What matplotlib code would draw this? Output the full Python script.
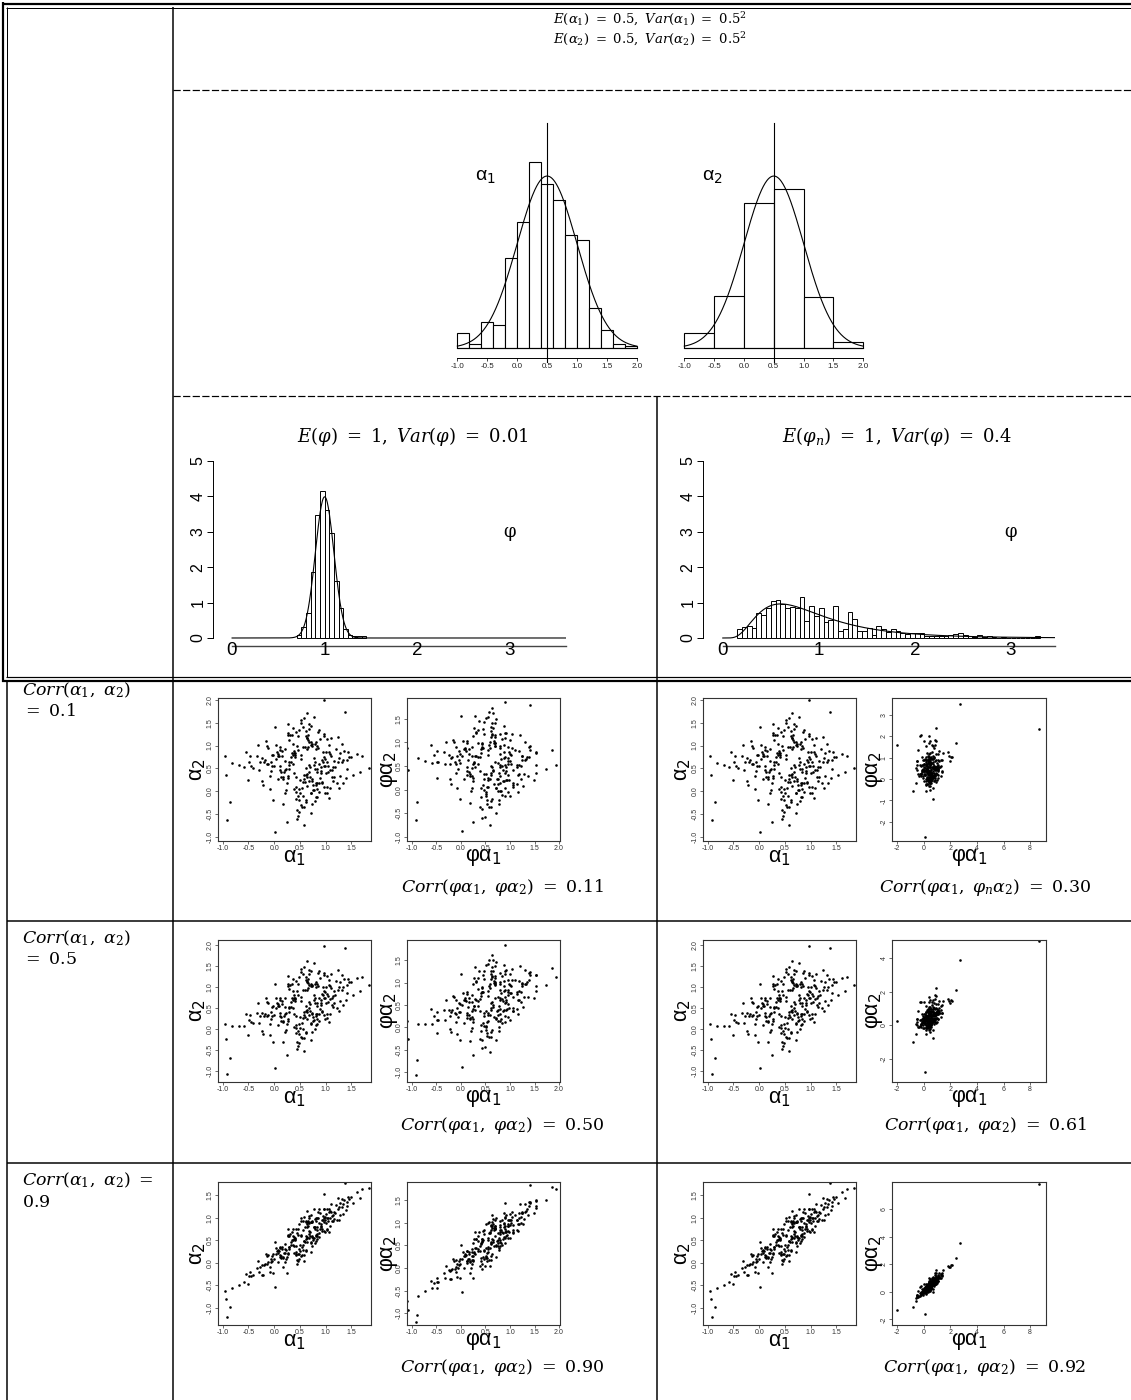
import numpy as np
import matplotlib
matplotlib.use('Agg')
import matplotlib.pyplot as plt

plt.rcParams['mathtext.fontset'] = 'stix'
plt.rcParams['font.family'] = ['Liberation Sans', 'DejaVu Sans']

# ---------------- data ----------------
# top histograms (density heights)
alpha1_edges = [-1.0, -0.8, -0.6, -0.4, -0.2, 0.0, 0.2, 0.4, 0.6, 0.8, 1.0, 1.2, 1.4, 1.6, 1.8, 2.0]
alpha1_dens = [0.069, 0.019, 0.12, 0.107, 0.42, 0.587, 0.865, 0.761, 0.687, 0.523, 0.499, 0.185, 0.085, 0.019, 0.008]
alpha2_edges = [-1.0, -0.5, 0.0, 0.5, 1.0, 1.5, 2.0]
alpha2_dens = [0.069, 0.241, 0.675, 0.737, 0.236, 0.026]
alpha_mean, alpha_sd = 0.5, 0.5

# phi histograms
phi_bin_start, phi_bin_width = 0.70, 0.05
phi_dens = [0.09, 0.31, 0.71, 1.86, 3.47, 4.16, 3.62, 2.97, 1.60, 0.85, 0.25, 0.09, 0.05, 0.05, 0.05]
phi_mean, phi_var = 1.0, 0.01

phin_bin_start, phin_bin_width = 0.15, 0.05
phin_dens = [0.25, 0.31, 0.33, 0.28, 0.71, 0.66, 0.85, 1.04, 1.08, 0.96,
             0.85, 0.88, 0.85, 1.16, 0.49, 0.90, 0.61, 0.85, 0.44, 0.52,
             0.90, 0.21, 0.25, 0.74, 0.54, 0.21, 0.19, 0.28, 0.09, 0.33,
             0.24, 0.16, 0.25, 0.19, 0.14, 0.11, 0.14, 0.14, 0.13, 0.07,
             0.07, 0.05, 0.07, 0.05, 0.09, 0.11, 0.14, 0.09, 0.05, 0.03,
             0.09, 0.03, 0.05, 0.02, 0.0, 0.02, 0.0, 0.0, 0.0, 0.0,
             0.0, 0.0, 0.05]
phin_mean, phin_var = 1.0, 0.4

# scatter samples: alpha1 shared by rows, alpha2 for each correlation
alpha1 = [1.85, 0.97, 0.33, 0.72, -0.12, 0.56, 1.23, 0.21, 0.48, 0.86,
          -0.94, 0.63, 0.12, 1.06, 0.58, 0.47, 1.41, -0.27, 0.76, 0.28,
          0.81, -0.02, 1.17, 0.41, 0.88, -0.58, 0.53, 1.02, 0.14, 0.66,
          0.26, 1.28, 0.52, -0.16, 0.93, 0.69, 0.07, 1.54, 0.36, 0.78,
          1.11, 0.44, -0.42, 0.73, 0.61, 0.18, 1.22, -0.04, 0.91, 0.49,
          0.31, 0.83, 1.71, -0.21, 0.64, 0.38, 0.99, 0.11, 0.57, 1.36,
          -0.81, 0.74, 0.23, 1.08, 0.96, 0.01, 0.62, 0.79, 0.34, 1.14,
          0.51, -0.29, 0.89, 0.71, 0.16, 1.46, 0.43, 0.67, -0.09, 1.04,
          0.82, 0.29, 1.26, -0.49, 0.59, 0.94, 0.22, 0.54, 1.01, 0.04,
          0.64, 1.61, 0.42, -0.06, 0.84, 0.77, -0.34, 1.19, 0.32, 0.51,
          1.31, 0.09, 0.68, 0.46, 1.07, -0.14, 0.92, 0.61, 0.24, 1.49,
          0.37, 0.79, -0.69, 0.96, 0.56, 0.13, 1.09, 0.39, 0.72, -0.01,
          1.39, 0.66, 0.19, 0.53, -0.24, 0.87, 1.16, 0.06, 0.69, 0.44,
          -0.44, 0.98, 0.62, 0.27, 0.89, 1.24, -0.11, 0.83, 0.41, 0.54,
          0.76, 0.08, 1.34, 0.43, 0.97, -0.19, 0.63, 0.26, 1.03, -0.51,
          1.37, 0.02, -0.91, -0.86, -0.96,
          0.59, 0.24, 1.03, 0.82, -0.07, 0.71, 0.38, 1.21, 0.49, 0.88,
          0.17, 0.66, 1.33, 0.29, 0.94, 0.57, -0.13, 0.79, 1.12, 0.46,
          0.83, 0.03, 0.67, 1.66, 0.37, 0.81, -0.32, 0.52, 1.06, 0.68,
          0.41, 1.13, 0.21, 0.63, 0.91, -0.03, 0.74, 1.32, 0.27, 0.56,
          0.99, 0.36, 0.73, -0.08, 0.86, 0.47, 1.44, 0.12, 0.63, 0.79,
          0.44, 0.96, -0.23, 0.77, 0.61, 1.11, 0.18, 0.92, 0.39, 0.71,
          1.27, 0.28, 0.56, -0.54, 0.78, 1.01, 0.08, 0.64, 0.87, 0.23,
          0.48, 1.04, 0.16, 0.68, 1.42, 0.42, 0.96, -0.18, 0.62, 0.74,
          0.21, 0.84, 1.14, 0.43, 0.67, -0.04, 0.81, 0.52, 1.26, 0.34,
          0.91, -0.46, 0.58, 1.02, 0.26, 0.72, 1.09, 0.11, 0.57, 0.84]
alpha2_r01 = [0.50, 2.00, 0.74, -0.03, 0.59, 0.21, 1.18, 0.47, -0.45, 0.94,
              0.36, 0.32, 0.96, 0.86, -0.74, 1.20, 0.49, 0.63, 0.13, 0.58,
              1.08, -0.20, 0.32, 0.84, 0.59, 0.54, 1.56, 0.10, 0.42, 0.97,
              0.33, 0.83, -0.30, 1.09, 0.20, 0.52, 0.76, 0.36, 1.39, 0.03,
              0.76, -0.61, 0.51, 0.98, 1.31, 0.27, 0.17, 0.80, 0.44, -0.20,
              1.23, 0.49, 0.77, 0.13, 1.72, 0.89, -0.05, 0.46, 0.36, 0.89,
              0.62, 1.03, 0.03, 0.46, 0.75, 1.40, -0.24, 0.63, 0.84, 0.22,
              -0.05, 0.47, 1.14, -0.48, 0.77, 0.75, 0.30, 1.37, 0.34, 0.56,
              0.93, 1.13, 0.08, 0.65, 0.21, 0.65, 0.92, -0.35, 0.40, 1.01,
              0.12, 0.81, 1.29, 0.45, -0.12, 1.63, 0.77, 0.52, 0.63, 0.25,
              0.63, 0.76, 0.42, -0.11, 1.01, 0.99, 0.19, 1.21, -0.68, 0.75,
              0.79, -0.22, 0.58, 0.55, 1.41, 0.32, 0.81, 0.04, 1.02, 0.55,
              0.29, 1.12, 0.42, 1.50, 0.73, -0.02, 0.67, 0.86, 0.32, -0.41,
              0.56, 0.55, -0.19, 1.23, 0.29, 0.63, 0.94, 0.43, 0.79, 0.06,
              0.03, 0.81, 0.69, 0.09, 1.20, 0.63, 0.37, 1.28, -0.05, 0.25,
              1.74, -0.90, -0.64, -0.24, 0.76,
              0.96, 0.18, 0.65, -0.12, 0.65, 1.07, 0.39, 0.92, 0.05, 1.34,
              0.32, 1.22, 0.19, 0.48, 0.85, -0.35, 0.59, 1.03, 0.31, 0.90,
              0.04, 0.71, 1.47, 0.42, 0.59, 0.18, 1.02, 0.70, -0.15, 0.57,
              0.74, 0.47, -0.03, 1.16, 0.54, 0.80, 0.23, 1.03, 1.48, -0.10,
              0.70, 1.04, 0.27, 0.04, 1.29, -0.55, 0.85, 0.56, 0.92, 0.48,
              1.00, 0.10, 0.23, 0.73, 0.36, 1.16, -0.28, 0.69, 0.84, 1.42,
              0.33, 0.63, 0.96, 0.85, 0.58, 0.85, 0.26, 1.17, 0.19, 0.48,
              1.35, 0.41, 0.87, 0.22, 0.69, -0.01, 1.25, 0.68, 0.51, -0.28,
              0.67, 0.99, 0.52, -0.16, 1.07, 0.55, 0.13, 0.80, 0.73, 1.24,
              0.39, 0.76, 0.26, 1.15, 0.28, -0.03, 0.06, 0.91, 1.61, 0.18]
alpha2_r05 = [1.06, 1.98, 0.64, 0.12, 0.33, 0.27, 1.40, 0.35, -0.32, 1.02,
              -0.23, 0.40, 0.73, 1.04, -0.53, 1.08, 0.86, 0.30, 0.28, 0.49,
              1.13, -0.31, 0.61, 0.75, 0.74, 0.08, 1.43, 0.36, 0.28, 0.97,
              0.25, 1.12, -0.19, 0.74, 0.42, 0.60, 0.54, 0.81, 1.20, 0.22,
              0.97, -0.48, 0.14, 1.02, 1.24, 0.18, 0.50, 0.53, 0.61, -0.11,
              1.05, 0.63, 1.23, -0.11, 1.61, 0.80, 0.23, 0.30, 0.40, 1.19,
              0.07, 1.06, -0.02, 0.71, 0.90, 1.07, -0.10, 0.74, 0.73, 0.52,
              0.02, 0.14, 1.22, -0.27, 0.59, 1.11, 0.30, 1.31, 0.11, 0.78,
              1.00, 0.96, 0.44, 0.22, 0.29, 0.81, 0.74, -0.21, 0.62, 0.75,
              0.23, 1.22, 1.14, 0.23, 0.11, 1.58, 0.38, 0.81, 0.53, 0.28,
              0.94, 0.56, 0.51, -0.05, 1.17, 0.65, 0.40, 1.16, -0.62, 1.13,
              0.69, 0.00, 0.07, 0.73, 1.30, 0.20, 1.02, 0.06, 1.03, 0.34,
              0.69, 1.10, 0.31, 1.37, 0.39, 0.20, 0.91, 0.62, 0.43, -0.30,
              0.16, 0.75, -0.06, 1.03, 0.48, 0.92, 0.63, 0.56, 0.71, 0.14,
              0.19, 0.60, 1.01, 0.10, 1.29, 0.32, 0.45, 1.07, 0.26, -0.13,
              1.92, -0.92, -1.07, -0.70, 0.12,
              0.94, 0.12, 0.84, 0.09, 0.40, 1.08, 0.36, 1.15, 0.11, 1.39,
              0.20, 1.18, 0.58, 0.40, 0.99, -0.21, 0.31, 1.07, 0.58, 0.82,
              0.24, 0.49, 1.40, 0.90, 0.51, 0.35, 0.62, 0.67, 0.17, 0.64,
              0.67, 0.74, -0.08, 1.11, 0.70, 0.55, 0.37, 1.29, 1.27, 0.01,
              0.88, 0.90, 0.38, -0.15, 1.33, -0.41, 1.19, 0.39, 0.92, 0.61,
              0.91, 0.34, -0.05, 0.80, 0.42, 1.32, -0.30, 0.84, 0.74, 1.38,
              0.66, 0.52, 0.92, 0.37, 0.69, 1.01, 0.10, 1.14, 0.37, 0.38,
              1.24, 0.65, 0.67, 0.34, 1.04, 0.02, 1.33, 0.37, 0.55, -0.07,
              0.52, 1.07, 0.78, -0.09, 1.05, 0.31, 0.30, 0.76, 1.00, 1.08,
              0.57, 0.33, 0.33, 1.27, 0.20, 0.14, 0.37, 0.69, 1.48, 0.36]
alpha2_r09 = [1.66, 1.54, 0.47, 0.44, 0.03, 0.41, 1.44, 0.23, 0.09, 0.99,
              -0.81, 0.55, 0.36, 1.13, 0.05, 0.76, 1.27, -0.09, 0.55, 0.36,
              1.01, -0.23, 0.98, 0.56, 0.88, -0.43, 1.00, 0.75, 0.16, 0.83,
              0.21, 1.33, 0.15, 0.20, 0.75, 0.68, 0.23, 1.34, 0.76, 0.55,
              1.13, -0.03, -0.27, 0.92, 0.94, 0.14, 0.96, 0.16, 0.82, 0.20,
              0.65, 0.79, 1.65, -0.26, 1.16, 0.58, 0.69, 0.14, 0.48, 1.40,
              -0.56, 0.94, 0.08, 1.00, 0.99, 0.46, 0.26, 0.81, 0.52, 0.93,
              0.26, -0.20, 1.12, 0.24, 0.32, 1.42, 0.37, 1.01, -0.08, 1.00,
              0.94, 0.60, 0.96, -0.29, 0.46, 0.95, 0.43, 0.17, 0.89, 0.34,
              0.46, 1.58, 0.76, 0.01, 0.53, 1.21, -0.11, 1.11, 0.39, 0.39,
              1.24, 0.27, 0.64, 0.19, 1.19, 0.16, 0.71, 0.90, -0.23, 1.47,
              0.50, 0.44, -0.49, 0.91, 0.94, 0.12, 1.15, 0.21, 0.90, 0.09,
              1.18, 0.90, 0.21, 0.94, -0.04, 0.58, 1.13, 0.27, 0.59, 0.06,
              -0.29, 0.95, 0.29, 0.60, 0.75, 1.20, 0.18, 0.73, 0.54, 0.35,
              0.51, 0.29, 1.31, 0.24, 1.19, -0.04, 0.57, 0.62, 0.73, -0.47,
              1.77, -0.54, -1.20, -0.98, -0.63,
              0.79, 0.14, 0.99, 0.49, 0.09, 0.92, 0.37, 1.28, 0.30, 1.21,
              0.12, 0.94, 1.09, 0.32, 1.04, 0.17, -0.02, 0.97, 0.93, 0.63,
              0.60, 0.20, 1.05, 1.45, 0.41, 0.62, 0.04, 0.59, 0.69, 0.70,
              0.52, 1.04, 0.01, 0.87, 0.86, 0.20, 0.59, 1.42, 0.76, 0.28,
              1.02, 0.61, 0.57, -0.21, 1.14, 0.04, 1.46, 0.18, 0.81, 0.75,
              0.67, 0.71, -0.26, 0.81, 0.53, 1.30, -0.10, 0.95, 0.54, 1.07,
              1.07, 0.36, 0.74, -0.25, 0.79, 1.08, 0.01, 0.92, 0.66, 0.28,
              0.87, 0.93, 0.36, 0.55, 1.35, 0.19, 1.21, -0.02, 0.59, 0.38,
              0.32, 1.01, 1.06, 0.17, 0.88, 0.05, 0.60, 0.63, 1.24, 0.69,
              0.80, -0.20, 0.48, 1.21, 0.19, 0.46, 0.82, 0.34, 1.03, 0.64]
# multipliers per draw: phi (Var 0.01) and phi_n (Var 0.4)
phi = [1.05, 0.93, 0.95, 1.10, 0.92, 1.05, 0.98, 1.14, 0.89, 1.01,
       1.15, 0.96, 1.07, 0.93, 1.02, 0.99, 1.08, 0.85, 1.04, 0.97,
       1.11, 0.94, 1.00, 1.06, 0.90, 1.03, 0.97, 1.12, 0.95, 1.01,
       0.88, 1.09, 1.02, 0.96, 1.05, 0.93, 1.13, 0.99, 1.04, 0.91,
       1.07, 0.98, 1.16, 0.94, 1.01, 1.06, 0.87, 1.03, 0.95, 1.10,
       0.97, 1.02, 1.08, 0.92, 1.00, 1.12, 0.96, 1.05, 0.90, 1.04,
       1.09, 0.95, 1.01, 1.06, 0.93, 1.11, 0.98, 1.03, 0.86, 1.07,
       1.00, 1.14, 0.94, 1.02, 0.97, 1.05, 1.10, 0.91, 1.04, 0.99,
       0.96, 1.08, 1.01, 1.13, 0.93, 1.03, 0.98, 1.07, 0.89, 1.02,
       1.05, 0.95, 1.11, 0.99, 1.06, 0.92, 1.04, 1.00, 1.09, 0.94,
       1.02, 1.07, 0.97, 1.12, 0.90, 1.03, 0.96, 1.08, 1.01, 0.93,
       1.10, 0.98, 1.05, 0.94, 1.15, 1.00, 0.92, 1.06, 0.97, 1.03,
       0.99, 1.04, 0.91, 1.09, 1.02, 0.95, 1.07, 1.00, 1.13, 0.88,
       1.06, 0.97, 1.03, 0.93, 1.08, 1.01, 0.96, 1.11, 0.99, 1.04,
       0.94, 1.09, 1.00, 1.05, 0.92, 1.07, 0.98, 1.02, 1.12, 0.96,
       1.03, 0.97, 1.00, 1.05, 1.15,
       0.98, 1.06, 0.93, 1.02, 1.10, 0.96, 1.04, 0.91, 1.08, 1.00,
       1.03, 0.95, 1.12, 0.99, 0.94, 1.07, 1.01, 0.89, 1.05, 0.97,
       1.09, 1.00, 0.96, 1.04, 0.92, 1.13, 0.98, 1.06, 0.95, 1.02,
       0.93, 1.08, 1.01, 0.97, 1.11, 0.94, 1.03, 0.99, 1.06, 0.90,
       1.04, 0.96, 1.09, 1.00, 0.92, 1.05, 0.98, 1.14, 0.95, 1.01,
       0.97, 1.10, 0.94, 1.03, 1.07, 0.91, 1.02, 0.96, 1.08, 0.99,
       1.01, 0.93, 1.06, 1.12, 0.97, 1.04, 0.90, 1.00, 1.09, 0.95,
       0.95, 1.03, 0.99, 1.07, 0.92, 1.10, 0.96, 1.02, 0.98, 1.05,
       1.08, 0.94, 1.00, 0.97, 1.05, 1.13, 0.93, 1.06, 0.99, 1.02,
       1.00, 1.07, 0.95, 1.03, 0.91, 1.04, 0.98, 1.09, 0.96, 1.01]
phi_n = [4.70, 0.62, 1.10, 0.45, 0.83, 1.35, 0.71, 0.95, 0.52, 1.22,
         0.38, 0.88, 1.60, 0.67, 0.30, 1.02, 0.77, 0.55, 1.45, 0.80,
         0.93, 0.48, 1.18, 0.64, 2.10, 0.41, 0.74, 1.30, 0.86, 0.58,
         1.05, 0.69, 0.35, 1.85, 0.79, 0.98, 0.51, 0.90, 1.26, 0.60,
         0.75, 1.52, 0.44, 0.96, 0.66, 1.12, 0.57, 0.84, 2.35, 0.72,
         0.50, 1.08, 0.63, 0.92, 1.38, 0.46, 0.81, 1.70, 0.59, 0.99,
         0.68, 0.40, 1.15, 0.87, 0.54, 1.28, 0.73, 0.97, 1.90, 0.61,
         0.85, 0.33, 1.04, 0.70, 1.55, 0.49, 0.91, 0.65, 1.20, 0.78,
         1.42, 0.56, 0.82, 1.00, 0.43, 2.60, 0.76, 0.60, 1.09, 0.89,
         0.53, 1.25, 0.70, 0.94, 0.36, 1.13, 0.84, 1.65, 0.58, 0.74,
         0.97, 0.47, 1.33, 0.63, 0.88, 1.06, 0.42, 1.48, 0.79, 0.67,
         1.17, 0.55, 0.90, 1.95, 0.61, 0.80, 1.03, 0.39, 0.72, 1.24,
         0.58, 0.86, 1.40, 0.69, 0.50, 1.11, 0.95, 0.64, 1.75, 0.82,
         0.45, 1.01, 0.77, 1.36, 0.60, 0.88, 2.20, 0.53, 0.93, 0.71,
         1.14, 0.66, 0.84, 1.29, 0.48, 0.98, 0.75, 1.58, 0.62, 0.87,
         2.00, 3.00, 0.90, 0.70, 2.10,
         0.72, 1.15, 0.48, 0.93, 1.40, 0.61, 0.84, 0.55, 1.07, 0.79,
         0.66, 1.30, 0.42, 0.88, 0.57, 1.22, 0.75, 0.98, 0.51, 1.62,
         0.81, 0.59, 1.05, 0.46, 0.92, 0.70, 1.34, 0.63, 0.87, 1.10,
         0.54, 0.96, 1.48, 0.68, 0.40, 0.85, 1.19, 0.73, 0.60, 0.99,
         1.27, 0.64, 0.78, 1.02, 0.50, 0.91, 0.69, 1.56, 0.83, 0.57,
         0.89, 0.45, 1.12, 0.76, 1.36, 0.62, 0.94, 0.53, 1.08, 0.71,
         0.60, 1.21, 0.82, 0.97, 0.47, 1.44, 0.74, 0.65, 1.00, 0.86,
         0.77, 0.52, 1.17, 0.90, 0.67, 1.31, 0.58, 0.95, 1.70, 0.63,
         1.04, 0.80, 0.56, 1.25, 0.73, 0.44, 0.99, 1.14, 0.61, 0.87,
         0.70, 1.09, 0.92, 0.49, 1.38, 0.79, 0.66, 1.01, 0.58, 1.20]

row_alpha2 = [alpha2_r01, alpha2_r05, alpha2_r09]
row_labels = [(r'$Corr(\alpha_1,\ \alpha_2)$', r'$=\ 0.1$'),
              (r'$Corr(\alpha_1,\ \alpha_2)$', r'$=\ 0.5$'),
              (r'$Corr(\alpha_1,\ \alpha_2)\ =$', r'$0.9$')]
corr_left = [r'$Corr(\varphi\alpha_1,\ \varphi\alpha_2)\ =\ 0.11$',
             r'$Corr(\varphi\alpha_1,\ \varphi\alpha_2)\ =\ 0.50$',
             r'$Corr(\varphi\alpha_1,\ \varphi\alpha_2)\ =\ 0.90$']
corr_right = [r'$Corr(\varphi\alpha_1,\ \varphi_n\alpha_2)\ =\ 0.30$',
              r'$Corr(\varphi\alpha_1,\ \varphi\alpha_2)\ =\ 0.61$',
              r'$Corr(\varphi\alpha_1,\ \varphi\alpha_2)\ =\ 0.92$']

# ---------------- figure ----------------
W, H = 1131, 1400
PX = 0.72  # one pixel in points
MATHF = 'dejavuserif'
fig = plt.figure(figsize=(W / 100, H / 100), dpi=100)


def px_axes(l, t, r, b):
    return fig.add_axes([l / W, 1 - b / H, (r - l) / W, (b - t) / H])


grid = px_axes(0, 0, W, H)
grid.set_xlim(0, W)
grid.set_ylim(H, 0)
grid.axis('off')


def hline(y, x0, x1, lw=1.5, **kw):
    grid.plot([x0, x1], [y, y], color='k', lw=lw * PX, solid_capstyle='butt', **kw)


def vline(x, y0, y1, lw=1.5):
    grid.plot([x, x], [y0, y1], color='k', lw=lw * PX, solid_capstyle='butt')


def cell_text(x, y, s, size, ha='center'):
    grid.text(x, y, s, ha=ha, va='center', fontsize=size, math_fontfamily=MATHF)


# table rules
hline(3.5, 2, W, 2.2)
hline(7.5, 6, W, 1.0)
vline(2.5, 2, 682, 2.2)
vline(6.5, 7, 677, 1.0)
hline(677, 6, W, 1.2)
hline(681, 2, W, 2.2)
vline(7, 680, H, 1.5)
vline(173, 7, H, 1.5)
hline(90, 173, W, 1.2, ls=(0, (6, 2)))
hline(396, 173, W, 1.2, ls=(0, (6, 2)))
vline(657, 396, H, 1.5)
hline(921, 7, W, 1.5)
hline(1163, 7, W, 1.5)

# header
cell_text(650, 19, r'$E(\alpha_1)\ =\ 0.5,\ Var(\alpha_1)\ =\ 0.5^2$', 9.5)
cell_text(650, 39, r'$E(\alpha_2)\ =\ 0.5,\ Var(\alpha_2)\ =\ 0.5^2$', 9.5)


def normal_pdf(x, m, s):
    return np.exp(-0.5 * ((x - m) / s) ** 2) / (s * np.sqrt(2 * np.pi))


def lognormal_pdf(x, mean, var):
    s2 = np.log(1 + var / mean ** 2)
    mu = np.log(mean) - s2 / 2
    return np.exp(-(np.log(x) - mu) ** 2 / (2 * s2)) / (x * np.sqrt(2 * np.pi * s2))


def alpha_hist(ax, edges, dens, label, xlim):
    edges = np.array(edges)
    ax.bar(edges[:-1], dens, width=np.diff(edges), align='edge', color='white',
           edgecolor='black', linewidth=0.8)
    xs = np.linspace(-1, 2, 300)
    ax.plot(xs, normal_pdf(xs, alpha_mean, alpha_sd), color='k', lw=0.8)
    ax.plot([-1, 2], [0, 0], color='k', lw=0.8)
    ax.plot([alpha_mean, alpha_mean], [-0.065, 1.044], color='k', lw=0.8, clip_on=False)
    ax.set_xlim(*xlim)
    ax.set_ylim(-0.125, 1.081)
    for s in ['top', 'right', 'left']:
        ax.spines[s].set_visible(False)
    ax.spines['bottom'].set_position(('data', -0.046))
    ax.spines['bottom'].set_bounds(-1, 2)
    ax.spines['bottom'].set_linewidth(0.7)
    ax.set_yticks([])
    ticks = [-1.0, -0.5, 0.0, 0.5, 1.0, 1.5, 2.0]
    ax.set_xticks(ticks)
    ax.set_xticklabels(['%.1f' % t for t in ticks])
    ax.tick_params(axis='x', length=2.5, width=0.6, pad=1, labelsize=5.8, colors='#222')
    ax.patch.set_alpha(0)
    ax.text(-0.53, 0.79, label, ha='center', va='center', fontsize=14, math_fontfamily='dejavusans')


ax = px_axes(440, 115, 650, 375)
alpha_hist(ax, alpha1_edges, alpha1_dens, r'α$_1$', (-1.29, 2.22))
ax = px_axes(670, 115, 880, 375)
alpha_hist(ax, alpha2_edges, alpha2_dens, r'α$_2$', (-1.24, 2.28))


def phi_hist(ax, start, width, dens, curve, xmax):
    lefts = start + width * np.arange(len(dens))
    ax.bar(lefts, dens, width=width, align='edge', color='white', edgecolor='black', linewidth=0.7)
    xs = np.linspace(0.001, xmax, 600)
    ax.plot(xs, curve(xs), color='k', lw=0.8)
    ax.set_xlim(-0.205, xmax + 0.005)
    ax.set_ylim(-0.763, 5.17)
    for s in ['top', 'right', 'bottom']:
        ax.spines[s].set_visible(False)
    ax.spines['left'].set_bounds(0, 5)
    ax.spines['left'].set_linewidth(0.7)
    ax.set_yticks([0, 1, 2, 3, 4, 5])
    ax.set_xticks([])
    ax.tick_params(axis='y', length=4, width=0.7, pad=1.5, labelsize=11.5)
    for lab in ax.get_yticklabels():
        lab.set_rotation(90)
        lab.set_va('center')
    ax.plot([0, xmax], [-0.226, -0.226], color='#444', lw=1.0, clip_on=False)
    for t in [0, 1, 2, 3]:
        ax.text(t, -0.34, str(t), ha='center', va='center', fontsize=13.5)
    ax.text(3.0, 3.0, 'φ', ha='center', va='center', fontsize=13, family='DejaVu Serif')
    ax.patch.set_alpha(0)


ax = px_axes(213, 455, 566, 665)
phi_hist(ax, phi_bin_start, phi_bin_width, phi_dens,
         lambda x: normal_pdf(x, phi_mean, np.sqrt(phi_var)), 3.6)
ax = px_axes(703, 455, 1055, 665)
phi_hist(ax, phin_bin_start, phin_bin_width, phin_dens,
         lambda x: lognormal_pdf(x, phin_mean, phin_var), 3.455)

cell_text(413, 437, r'$E(\varphi)\ =\ 1,\ Var(\varphi)\ =\ 0.01$', 13)
cell_text(897, 437, r'$E(\varphi_n)\ =\ 1,\ Var(\varphi)\ =\ 0.4$', 13)


# ---------------- scatter rows ----------------
def scatter_panel(box, x, y, xlim, ylim, xticks, yticks, fmt, xlab, ylab, ylab_off):
    ax = px_axes(*box)
    ax.scatter(x, y, s=3.5, c='k', linewidths=0)
    ax.set_xlim(*xlim)
    ax.set_ylim(*ylim)
    ax.set_xticks(xticks)
    ax.set_yticks(yticks)
    ax.set_xticklabels([fmt % t for t in xticks])
    ax.set_yticklabels([fmt % t for t in yticks], rotation=90, va='center')
    ax.tick_params(length=2, width=0.5, pad=1.2, labelsize=5, colors='#333')
    for s in ax.spines.values():
        s.set_linewidth(0.8)
        s.set_color('#333')
    ax.text(0.5, -0.115, xlab, transform=ax.transAxes, ha='center', va='center',
            fontsize=15.5, math_fontfamily='dejavusans')
    ax.text(ylab_off, 0.5, ylab, transform=ax.transAxes, ha='center', va='center',
            rotation=90, fontsize=15.5, math_fontfamily='dejavusans')
    return ax


row_tops = [(698, 841), (940, 1082), (1182, 1325)]
a_ylims = [(-1.09, 2.04), (-1.26, 2.12), (-1.38, 1.80)]
a_yticks = [[-1.0, -0.5, 0.0, 0.5, 1.0, 1.5, 2.0], [-1.0, -0.5, 0.0, 0.5, 1.0, 1.5, 2.0],
            [-1.0, -0.5, 0.0, 0.5, 1.0, 1.5]]
b_ylims = [(-1.085, 1.94), (-1.22, 1.95), (-1.26, 1.90)]
d_ylims = [(-2.89, 3.78), (-3.34, 5.04), (-2.41, 7.98)]
d_yticks = [[-2, -1, 0, 1, 2, 3], [-2, 0, 2, 4], [-2, 0, 2, 4, 6]]
row_label_y = [(690, 711), (938, 959), (1180, 1202)]
corr_y = [888, 1126, 1368]

a1 = np.array(alpha1)
phi_arr = np.array(phi)
phin_arr = np.array(phi_n)
ab_xticks = [-1.0, -0.5, 0.0, 0.5, 1.0, 1.5]
b_xticks = [-1.0, -0.5, 0.0, 0.5, 1.0, 1.5, 2.0]
b_yticks = [-1.0, -0.5, 0.0, 0.5, 1.0, 1.5]

for i in range(3):
    t, b = row_tops[i]
    a2 = np.array(row_alpha2[i])
    for left in (218, 703):
        scatter_panel((left, t, left + 153, b), a1, a2, (-1.09, 1.88), a_ylims[i],
                      ab_xticks, a_yticks[i], '%.1f', r'α$_1$', r'α$_2$', -0.137)
    scatter_panel((407, t, 560, b), phi_arr * a1, phi_arr * a2, (-1.10, 2.02), b_ylims[i],
                  b_xticks, b_yticks, '%.1f', r'φα$_1$', r'φα$_2$', -0.115)
    scatter_panel((892, t, 1046, b), phin_arr * a1, phin_arr * a2, (-2.4, 9.2), d_ylims[i],
                  [-2, 0, 2, 4, 6, 8], d_yticks[i], '%d', r'φα$_1$', r'φα$_2$', -0.115)
    l1, l2 = row_labels[i]
    cell_text(22, row_label_y[i][0], l1, 12.5, ha='left')
    cell_text(22, row_label_y[i][1], l2, 12.5, ha='left')
    cell_text(502, corr_y[i], corr_left[i], 12.5)
    cell_text(985, corr_y[i], corr_right[i], 12.5)

fig.savefig('out.png', dpi=100)
